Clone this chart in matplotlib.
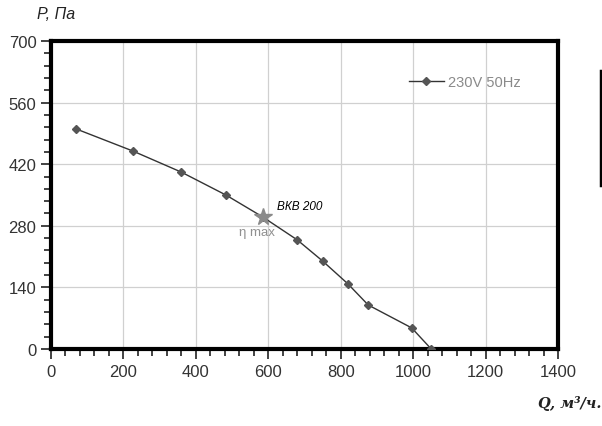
import matplotlib.pyplot as plt
from matplotlib.lines import Line2D
from matplotlib.ticker import MultipleLocator

# flow Q (m3/h) and pressure P (Pa)
q_vals = [70, 226, 360, 483, 585, 680, 750, 820, 876, 996, 1050]
p_vals = [500, 450, 402, 350, 300, 248, 200, 148, 100, 48, 0]
eta_q = 585
eta_p = 300
series_name = '230V 50Hz'
model_name = 'ВКВ 200'

plt.rcParams['font.family'] = ['Liberation Sans', 'DejaVu Sans']

fig = plt.figure(figsize=(6.02, 4.27), dpi=100)
ax = fig.add_axes([0.0847, 0.1803, 0.8422, 0.7213])

ax.plot(q_vals, p_vals, color='#333333', lw=1.0, marker='D', ms=4.5,
        mfc='#555555', mec='#555555', label=series_name, zorder=3)
ax.plot([eta_q], [eta_p], marker='*', ms=13, color='#8a8a8a', ls='none', zorder=4)
ax.text(625, 318, model_name, fontsize=8.5, style='italic', color='black')
ax.text(518, 258, 'η max', fontsize=9.5, color='#909090')

ax.set_xlim(0, 1400)
ax.set_ylim(0, 700)
ax.xaxis.set_major_locator(MultipleLocator(200))
ax.xaxis.set_minor_locator(MultipleLocator(40))
ax.yaxis.set_major_locator(MultipleLocator(140))
ax.yaxis.set_minor_locator(MultipleLocator(28))
ax.grid(True, which='major', color='#d0d0d0', lw=0.9)
ax.set_axisbelow(True)

for s in ax.spines.values():
    s.set_linewidth(3)
    s.set_color('black')
ax.tick_params(which='both', direction='out', color='#222222', labelsize=12,
               labelcolor='#333333', width=1.2)
ax.tick_params(which='major', length=7)
ax.tick_params(which='minor', length=5)

leg = ax.legend(loc='center left', bbox_to_anchor=(0.706, 0.867), frameon=False,
                fontsize=10.5, handlelength=2.4, handletextpad=0.3, borderpad=0,
                borderaxespad=0)
for t in leg.get_texts():
    t.set_color('#8a8a8a')

fig.text(0.062, 0.955, 'P, Па', fontsize=11.5, style='italic', color='#222222')
fig.text(0.893, 0.045, 'Q, м³/ч.', fontsize=10.5, family='DejaVu Serif',
         style='italic', weight='bold', color='#222222')

# stray vertical bar at the right edge
fig.add_artist(Line2D([0.998, 0.998], [0.565, 0.832], color='black', lw=2.5,
                      transform=fig.transFigure))

fig.savefig('out.png', dpi=100)
